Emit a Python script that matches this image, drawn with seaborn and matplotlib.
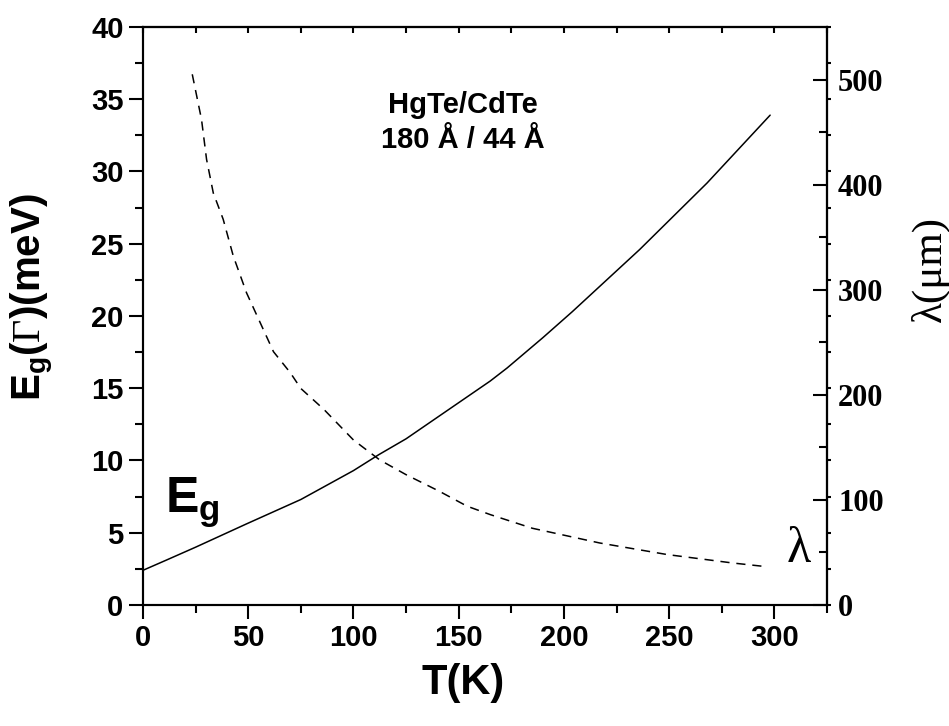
import numpy as np
import matplotlib
matplotlib.use("Agg")
import matplotlib.pyplot as plt
import seaborn as sns

# band gap Eg(Gamma) vs temperature (solid line, left axis)
t_eg = [0, 11, 25, 49, 75, 100, 112, 125, 141, 150, 165, 173, 190, 204, 236, 268, 298]
eg = [2.4, 3.1, 4.0, 5.6, 7.3, 9.3, 10.4, 11.5, 13.1, 14.0, 15.5, 16.4, 18.5, 20.3, 24.6, 29.2, 33.9]

# cut-off wavelength vs temperature (dashed line, right axis)
t_lam = [23.4, 27.8, 30.2, 33.4, 38.1, 42.9, 49.2, 54, 62, 70, 75, 86, 100, 112.5,
         125, 141, 154, 165, 185, 217, 249, 280, 296]
lam = [505, 462, 424, 392, 367, 332, 297, 276, 241, 221, 206, 186, 157, 138,
       124, 108, 94, 86, 73, 59, 48, 40, 36.5]

x_ticks = [0, 50, 100, 150, 200, 250, 300]
eg_ticks = [0, 5, 10, 15, 20, 25, 30, 35, 40]
lam_ticks = [0, 100, 200, 300, 400, 500]

sns.set_style("ticks")
plt.rcParams["font.family"] = ["Liberation Sans", "DejaVu Sans"]
plt.rcParams["mathtext.fontset"] = "custom"
plt.rcParams["mathtext.rm"] = "Liberation Serif"
plt.rcParams["mathtext.bf"] = "Liberation Sans:bold"
plt.rcParams["axes.linewidth"] = 1.5
plt.rcParams["text.color"] = "black"
plt.rcParams["axes.edgecolor"] = "black"
plt.rcParams["xtick.color"] = "black"
plt.rcParams["ytick.color"] = "black"
plt.rcParams["axes.labelcolor"] = "black"

fig = plt.figure(figsize=(9.49, 7.26), dpi=100)
ax = fig.add_axes([0.1507, 0.1667, 0.7207, 0.7961])

sns.lineplot(x=t_eg, y=eg, ax=ax, color="black", lw=1.1)
ax.set_xlim(0, 325)
ax.set_ylim(0, 40)
ax.set_xticks(x_ticks)
ax.set_xticks(np.arange(25, 326, 50), minor=True)
ax.set_yticks(eg_ticks)
ax.set_yticks(np.arange(2.5, 40, 5), minor=True)
ax.tick_params(which="major", direction="out", length=10, width=1.5, pad=4,
               labelsize=21, right=False, top=False)
ax.tick_params(which="minor", direction="out", length=6, width=1.5, right=False, top=False)
for lab in ax.get_xticklabels() + ax.get_yticklabels():
    lab.set_fontweight("bold")

# inward ticks along the top
sec_top = ax.secondary_xaxis("top")
sec_top.set_xticks(np.arange(0, 326, 25))
sec_top.tick_params(direction="in", length=4, width=1.5, labeltop=False)

# left-axis ticks mirrored outward on right
sec_right = ax.secondary_yaxis("right")
sec_right.set_yticks(np.arange(0, 40.1, 2.5))
sec_right.tick_params(direction="out", length=3, width=1.5, labelright=False)

ax2 = ax.twinx()
sns.lineplot(x=t_lam, y=lam, ax=ax2, color="black", lw=1.1, linestyle=(0, (6, 4.5)))
ax2.set_ylim(0, 550)
ax2.set_yticks(lam_ticks)
ax2.set_yticks(np.arange(50, 550, 100), minor=True)
ax2.tick_params(which="major", direction="in", length=10, width=1.5, pad=8)
ax2.tick_params(which="minor", direction="in", length=6, width=1.5)
for lab in ax2.get_yticklabels():
    lab.set_fontfamily("Liberation Serif")
    lab.set_fontweight("bold")
    lab.set_fontsize(22)
ax2.set_ylabel("")

ax.set_xlabel("")
ax.set_ylabel("")
fig.text(0.488, 0.059, "T(K)", ha="center", va="center", fontsize=30, fontweight="bold")
fig.text(0.034, 0.59, r"$\mathbf{E}_\mathbf{g}\mathbf{(}\mathrm{\Gamma}\mathbf{)(meV)}$",
         rotation=90, ha="center", va="center", fontsize=29)
fig.text(0.98, 0.63, "λ(μm)", rotation=90, ha="center", va="center", fontsize=31,
         fontfamily="Liberation Serif")

ax.text(10.5, 6.4, r"$\mathbf{E}_\mathbf{g}$", fontsize=36, ha="left", va="baseline")
ax.text(306, 3.0, "λ", fontsize=36, ha="left", va="baseline", fontfamily="Liberation Serif")
ax.text(152, 34.6, "HgTe/CdTe", fontsize=21, fontweight="bold", ha="center", va="center")
ax.text(152, 32.2, "180 Å / 44 Å", fontsize=21, fontweight="bold", ha="center", va="center")

fig.savefig("out.png", dpi=100)
